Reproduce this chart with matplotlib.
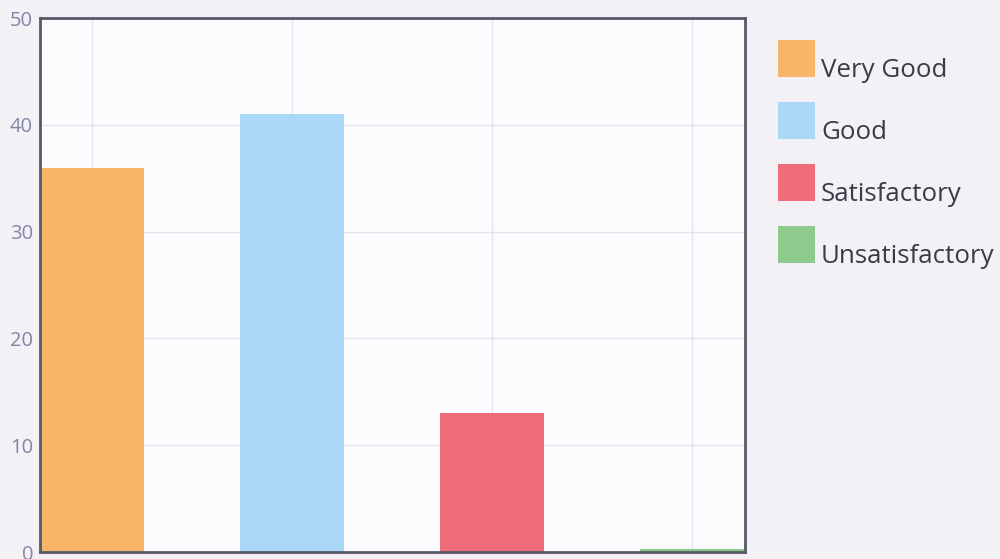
import matplotlib.pyplot as plt
from matplotlib.patches import Rectangle

categories = ['Very Good', 'Good', 'Satisfactory', 'Unsatisfactory']
counts = [36, 41, 13, 0.3]
colors = ['#f8b467', '#a9d9f6', '#ee6d78', '#8dca8b']
yticks = [0, 10, 20, 30, 40, 50]

plt.rcParams['font.family'] = ['Open Sans', 'DejaVu Sans']

W, H = 1000, 559
fig = plt.figure(figsize=(W / 100, H / 100), dpi=100, facecolor='#f3f1f5')
ax = fig.add_axes([0.04, 0.0125, 0.705, 0.955])
ax.set_facecolor('#fcfbfd')

x = list(range(len(categories)))
ax.bar(x, counts, width=0.52, color=colors, zorder=2)

ax.set_xlim(-0.26, 3.265)
ax.set_ylim(0, 50)
ax.set_yticks(yticks)
ax.set_xticks(x)
ax.set_xticklabels([])
ax.tick_params(axis='x', length=0)
ax.tick_params(axis='y', length=0, pad=5, labelsize=14.5, labelcolor='#8286a6')
ax.grid(True, color='#e4e3ec', linewidth=1, zorder=0)

for s in ax.spines.values():
    s.set_color('#55596a')
    s.set_linewidth(2)

# legend drawn by hand: square sits above-left, label baseline at square bottom
for i, (lab, c) in enumerate(zip(categories, colors)):
    top = 40 + 62 * i
    fig.patches.append(Rectangle((778 / W, 1 - (top + 37) / H), 37 / W, 37 / H,
                                 transform=fig.transFigure, facecolor=c, edgecolor='none'))
    fig.text(821 / W, 1 - (top + 37) / H, lab, fontsize=18.6, color='#3b3b48',
             va='baseline', ha='left')

fig.savefig('out.png', dpi=100, facecolor=fig.get_facecolor())
